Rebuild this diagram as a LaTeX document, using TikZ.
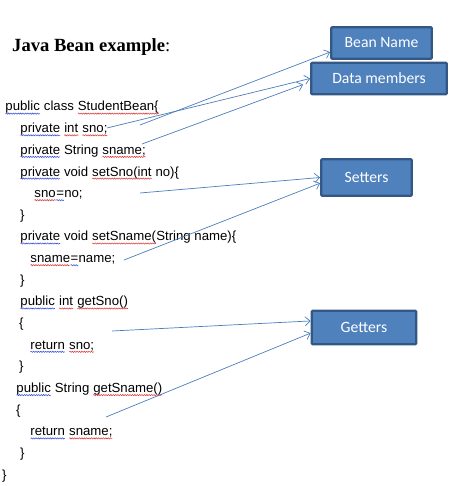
\documentclass[tikz,border=0pt]{standalone}
\usepackage{fontspec}
\setmainfont{Liberation Sans}
\newfontfamily\titleserif{Liberation Serif}
\newfontfamily\carlito{Carlito}
\usepackage{xcolor}
\usepackage{tikz}
\usetikzlibrary{arrows.meta,positioning,decorations.pathmorphing}

\definecolor{boxfill}{HTML}{4F81BD}
\definecolor{boxborder}{HTML}{345886}
\definecolor{arrowblue}{HTML}{4A7EBB}
\definecolor{spellred}{HTML}{E03C3C}
\definecolor{spellblue}{HTML}{3C50DC}

% wavy spell-check underline
\newcommand{\sqline}[2]{\tikz[baseline=(sq.base)]{\node[inner sep=0pt, outer sep=0pt] (sq) {#2};
    \draw[#1, line width=0.55pt, decorate, decoration={snake, amplitude=0.6pt, segment length=2.4pt}] ([yshift=-2.6pt]sq.base west) -- ([yshift=-2.6pt]sq.base east);}}
\newcommand{\rsq}[1]{\sqline{spellred}{#1}}
\newcommand{\bsq}[1]{\sqline{spellblue}{#1}}

\begin{document}
\begin{tikzpicture}[
    x=1pt, y=-1pt,
    code/.style={anchor=base west, inner sep=0pt, font=\fontsize{13.2}{16}\selectfont},
    beanbox/.style={rectangle, draw=boxborder, line width=2.3pt, rounded corners=1pt, fill=boxfill, text=white, inner sep=0pt, font=\carlito\fontsize{15.7}{18}\selectfont},
    link/.style={draw, -{Straight Barb[length=5pt,width=9pt]}, line width=0.7pt, color=arrowblue}
]
    \useasboundingbox (0,0) rectangle (455,486);

    % Title
    \node [anchor=base west, inner sep=0pt, font=\titleserif\fontsize{18.6}{22}\selectfont] (title) at (12,52) {\textbf{Java Bean example}:};

    % Code listing
    \node [code] (l0)  at (5,111)    {\bsq{public} class \rsq{StudentBean\{}};
    \node [code] (l1)  at (20,132.7) {\bsq{private} \rsq{int} \rsq{sno;}};
    \node [code] (l2)  at (20,154.3) {\bsq{private} String \rsq{sname;}};
    \node [code] (l3)  at (20,176)   {\bsq{private} void \rsq{setSno(int} no)\{};
    \node [code] (l4)  at (34,197.6) {\rsq{sno}\bsq{=}no;};
    \node [code] (l5)  at (20,219.3) {\}};
    \node [code] (l6)  at (20,240.9) {\bsq{private} void \rsq{setSname(}String name)\{};
    \node [code] (l7)  at (30,262.6) {\rsq{sname}\bsq{=}name;};
    \node [code] (l8)  at (20,284.2) {\}};
    \node [code] (l9)  at (20,305.9) {\bsq{public} \rsq{int} \rsq{getSno()}};
    \node [code] (l10) at (19,327.5) {\{};
    \node [code] (l11) at (30,349.2) {\bsq{return} \rsq{sno;}};
    \node [code] (l12) at (19,370.8) {\}};
    \node [code] (l13) at (16,392.5) {\bsq{public} String \rsq{getSname()}};
    \node [code] (l14) at (16,414.1) {\{};
    \node [code] (l15) at (30,435.8) {\bsq{return} \rsq{sname;}};
    \node [code] (l16) at (20,457.4) {\}};
    \node [code] (l17) at (2,479.1)  {\}};

    % Label boxes
    \node [beanbox, minimum width=100.5, minimum height=31.5] (bean) at (381.5,43) {Bean Name};
    \node [beanbox, minimum width=135.5, minimum height=31.5] (data) at (379,78.5) {Data members};
    \node [beanbox, minimum width=90.5, minimum height=36.5] (setters) at (366.5,177.5) {Setters};
    \node [beanbox, minimum width=104.5, minimum height=33.5] (getters) at (364,327.5) {Getters};

    % Arrow start points
    \coordinate (fromBean) at (140,125);
    \coordinate (fromSno) at (107,128);
    \coordinate (fromSname) at (142,144);
    \coordinate (fromSetA) at (140,193);
    \coordinate (fromSetB) at (124,260);
    \coordinate (fromGetA) at (112,331);
    \coordinate (fromGetB) at (106,417);

    % Routing
    \path [link] (fromBean) -- (bean.190);
    \path [link] (fromSno) -- (data.west);
    \path [link] (fromSname) -- ([xshift=-7pt]data.185);
    \path [link] (fromSetA) -- (setters.west);
    \path [link] (fromSetB) -- (setters.187);
    \path [link] (fromGetA) -- (getters.173);
    \path [link] (fromGetB) -- (getters.186);
\end{tikzpicture}
\end{document}
